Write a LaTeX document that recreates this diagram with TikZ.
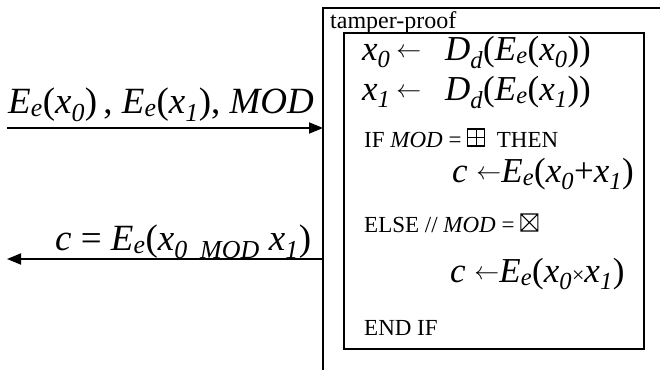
\documentclass[tikz,border=0pt]{standalone}
\usepackage{fontspec}
\setmainfont{Liberation Serif}
\usetikzlibrary{arrows.meta}
\newcommand{\dn}[1]{\textsubscript{\itshape #1}}
\newcommand{\la}{{\fontsize{26}{26}\selectfont\raisebox{0.1em}{$\leftarrow$}}}
\newcommand{\boxplus}{\tikz[x=1pt,y=1pt,baseline=-1pt,line width=1.1pt]{\draw (0,0) rectangle (17,17) (8.5,0) -- (8.5,17) (0,8.5) -- (17,8.5);}}
\newcommand{\boxtimes}{\tikz[x=1pt,y=1pt,baseline=-1pt,line width=1.1pt]{\draw (0,0) rectangle (17,17) (0,0) -- (17,17) (0,17) -- (17,0);}}
\begin{document}
\begin{tikzpicture}[x=1pt,y=-1pt,
  txt/.style={inner sep=0pt, anchor=base west},
  big/.style={txt, font=\fontsize{37}{37}\selectfont},
  mid/.style={txt, font=\fontsize{35}{35}\selectfont},
  sml/.style={txt, font=\fontsize{23}{23}\selectfont},
  tag/.style={txt, font=\fontsize{24}{24}\selectfont},
  arr/.style={line width=1.8pt, -{Triangle[length=14pt,width=11pt]}},
  boxline/.style={line width=1.8pt}]
\useasboundingbox (0,0) rectangle (660,369);
% outer tamper-proof box (open to the right and bottom)
\coordinate (oTL) at (323,8);
\draw[boxline] (323,372) -- (oTL) -- (663,8);
\node[tag] (tp) at (330,29) {tamper-proof};
% inner box
\node[draw, boxline, line width=2.2pt, inner sep=0pt, minimum width=300pt, minimum height=316pt, anchor=north west] (inner) at (343,32) {};
% left side labels and arrows
\node[big] (lin) at (8,113) {\textit{E}\dn{e}(\textit{x}\dn{0})\,, \textit{E}\dn{e}(\textit{x}\dn{1}), \textit{MOD}};
\coordinate (aL) at (7,128);
\draw[arr] (aL) -- (aL -| oTL);
\node[big] (lout) at (55,250) {\textit{c} = \textit{E}\dn{e}(\textit{x}\dn{0\ \ MOD}\ \textit{x}\dn{1})};
\coordinate (bL) at (7,259);
\draw[arr] (bL -| oTL) -- (bL);
% rows inside the box
\node[mid] (r1a) at (362,60) {\textit{x}\dn{0}\,\la};
\node[mid] (r1b) at (445,60) {\textit{D}\dn{d}(\textit{E}\dn{e}(\textit{x}\dn{0}))};
\node[mid] (r2a) at (362,100) {\textit{x}\dn{1}\,\la};
\node[mid] (r2b) at (445,100) {\textit{D}\dn{d}(\textit{E}\dn{e}(\textit{x}\dn{1}))};
\node[sml] (r3) at (364,147) {IF \textit{MOD} = \boxplus\ \ THEN};
\node[mid] (r4) at (452,182) {\textit{c} \la\textit{E}\dn{e}(\textit{x}\dn{0}+\textit{x}\dn{1})};
\node[sml] (r5) at (364,232) {ELSE // \textit{MOD} = \boxtimes};
\node[mid] (r6) at (450,282) {\textit{c} \la\textit{E}\dn{e}(\textit{x}\dn{0}{\fontsize{22}{22}\selectfont ×}\textit{x}\dn{1})};
\node[sml] (r7) at (364,335) {END IF};
\end{tikzpicture}
\end{document}
